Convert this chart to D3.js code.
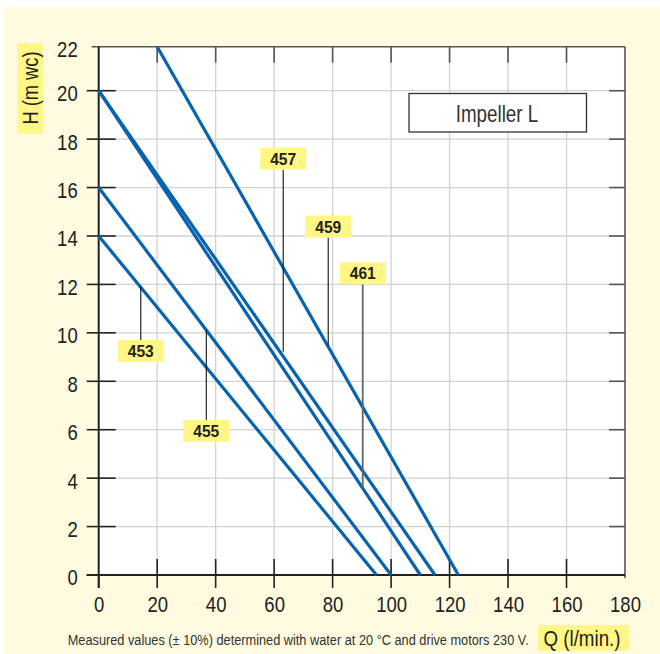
<!DOCTYPE html>
<html><head><meta charset="utf-8">
<script src="https://cdn.jsdelivr.net/npm/d3@7/dist/d3.min.js"></script>
<style>
html,body{margin:0;padding:0;background:#fff;}
svg{display:block;}
</style></head>
<body>
<svg id="c" width="660" height="654"></svg>
<script>
// ---- data ----
const xTicks = [0,20,40,60,80,100,120,140,160,180];
const yTicks = [0,2,4,6,8,10,12,14,16,18,20,22];
const seriesNames = ["453","455","457","459","461"];
// curves: [Q, H] start and end points
const curve453 = [[0,14],[95,0]];
const curve455 = [[0,16],[100,0]];
const curve457 = [[0,20],[115,0]];
const curve459 = [[20,22],[123,0]];
const curve461 = [[0,20],[110,0]];
// label annotations: Q position, H of label centre, H where leader ends
const labelQ    = [14.4, 36.8, 63.1, 78.5, 90.3];
const labelH    = [9.25, 5.95, 17.2, 14.39, 12.46];
const leaderEnd = [11.9, 10.1, 9.22, 9.47, 3.65];
const title = "Impeller L";
const xTitle = "Q (l/min.)";
const yTitle = "H (m wc)";
const footnote = "Measured values (\u00b1 10%) determined with water at 20 \u00b0C and drive motors 230 V.";

const curves = [curve453, curve455, curve457, curve459, curve461];

// ---- layout ----
const svg = d3.select("#c");
const L = 98.7, R = 625, T = 46.7, B = 575;
const x = d3.scaleLinear().domain([0,180]).range([L,R]);
const y = d3.scaleLinear().domain([0,20,22]).range([B,90.7,T]);
const font = "'Liberation Sans',Arial,sans-serif";
const blue = "#0863ae";
const yellow = "#fff685";

svg.append("rect").attr("x",4).attr("y",7).attr("width",656).attr("height",647).attr("fill","#fffbe0");
svg.append("rect").attr("x",L).attr("y",T).attr("width",R-L).attr("height",B-T).attr("fill","#fff");

// grid
svg.append("g").selectAll("line").data(xTicks.slice(1,-1)).join("line")
  .attr("x1",d=>x(d)).attr("x2",d=>x(d)).attr("y1",T).attr("y2",B)
  .attr("stroke","#d2d2d2").attr("stroke-width",1.3);
svg.append("g").selectAll("line").data(yTicks.slice(1,-1)).join("line")
  .attr("y1",d=>y(d)).attr("y2",d=>y(d)).attr("x1",L).attr("x2",R)
  .attr("stroke","#d2d2d2").attr("stroke-width",1.3);

// frame top/right
svg.append("line").attr("x1",L-7).attr("x2",R).attr("y1",T).attr("y2",T).attr("stroke","#555").attr("stroke-width",1.6);
svg.append("line").attr("x1",R).attr("x2",R).attr("y1",T).attr("y2",B+3).attr("stroke","#555").attr("stroke-width",1.6);

// ticks
const tk = svg.append("g").attr("stroke","#222").attr("stroke-width",1.6);
tk.selectAll(".tl").data(yTicks.slice(0,-1)).join("line")
  .attr("x1",L-12).attr("x2",L+17).attr("y1",d=>y(d)).attr("y2",d=>y(d));
tk.selectAll(".tr").data(yTicks.slice(1,-1)).join("line").attr("class","tr")
  .attr("x1",R-16).attr("x2",R).attr("y1",d=>y(d)).attr("y2",d=>y(d)).attr("stroke","#555");
tk.selectAll(".tb").data(xTicks.slice(0,-1)).join("line").attr("class","tb")
  .attr("x1",d=>x(d)).attr("x2",d=>x(d)).attr("y1",d=>d===0?B:B-16).attr("y2",B+13);
tk.selectAll(".tt").data(xTicks.slice(1,-1)).join("line").attr("class","tt")
  .attr("x1",d=>x(d)).attr("x2",d=>x(d)).attr("y1",T).attr("y2",T+16).attr("stroke","#555");

// axis lines
svg.append("line").attr("x1",L).attr("x2",L).attr("y1",T).attr("y2",B+13).attr("stroke","#222").attr("stroke-width",2);
svg.append("line").attr("x1",L-12).attr("x2",R).attr("y1",B).attr("y2",B).attr("stroke","#222").attr("stroke-width",2);

// tick labels via d3 axes (condensed with textLength)
const fmt = d3.format("d");
const yAxis = svg.append("g").attr("transform",`translate(${L},0)`)
  .call(d3.axisLeft(y).tickValues(yTicks).tickSize(0).tickPadding(21).tickFormat(fmt));
yAxis.select(".domain").remove();
yAxis.selectAll("text").attr("font-family",font).attr("font-size",22).attr("fill","#222").attr("dy","0.45em")
  .attr("textLength",d=>fmt(d).length*10.3).attr("lengthAdjust","spacingAndGlyphs");
const xAxis = svg.append("g").attr("transform",`translate(0,${B})`)
  .call(d3.axisBottom(x).tickValues(xTicks).tickSize(0).tickPadding(21).tickFormat(fmt));
xAxis.select(".domain").remove();
xAxis.selectAll("text").attr("font-family",font).attr("font-size",22).attr("fill","#222")
  .attr("textLength",d=>fmt(d).length*10.3).attr("lengthAdjust","spacingAndGlyphs");

// curves
const line = d3.line().x(d=>x(d[0])).y(d=>y(d[1]));
svg.append("g").selectAll("path").data(curves).join("path")
  .attr("d",line).attr("fill","none").attr("stroke",blue).attr("stroke-width",3.2).attr("stroke-linecap","butt");

// labels
const bw = 46, bh = 22;
const lab = svg.append("g");
seriesNames.forEach((n,i)=>{
  const cx = x(labelQ[i]), cy = y(labelH[i]);
  const above = leaderEnd[i] > labelH[i];
  const yEdge = above ? cy - bh/2 : cy + bh/2;
  lab.append("line").attr("x1",cx).attr("x2",cx).attr("y1",yEdge).attr("y2",y(leaderEnd[i]))
    .attr("stroke", i===4 ? "#666" : "#111").attr("stroke-width", i===4 ? 1.8 : 1.1);
  lab.append("rect").attr("x",cx-bw/2).attr("y",cy-bh/2).attr("width",bw).attr("height",bh).attr("fill",yellow);
  lab.append("text").attr("x",cx).attr("y",cy).attr("dy","0.36em").attr("text-anchor","middle")
    .attr("font-family",font).attr("font-weight","bold")
    .attr("font-size",17).attr("fill","#222").attr("textLength",26).attr("lengthAdjust","spacingAndGlyphs").text(n);
});

// title box
svg.append("rect").attr("x",409).attr("y",93.5).attr("width",177.5).attr("height",38.5)
  .attr("fill","#fff").attr("stroke","#333").attr("stroke-width",1.3);
svg.append("text").attr("x",497).attr("y",113).attr("dy","0.36em").attr("text-anchor","middle")
  .attr("font-family",font).attr("font-size",24).attr("fill","#333")
  .attr("textLength",82.6).attr("lengthAdjust","spacingAndGlyphs").text(title);

// y title
svg.append("rect").attr("x",17.3).attr("y",43.3).attr("width",25.7).attr("height",90.4).attr("fill",yellow);
svg.append("text").attr("transform","translate(30.2,88) rotate(-90)").attr("dy","0.36em")
  .attr("text-anchor","middle").attr("font-family",font).attr("font-size",22).attr("fill","#222")
  .attr("textLength",73).attr("lengthAdjust","spacingAndGlyphs").text(yTitle);

// x title
svg.append("rect").attr("x",538.3).attr("y",625).attr("width",90.7).attr("height",25.7).attr("fill",yellow);
svg.append("text").attr("x",582).attr("y",637.8).attr("dy","0.36em").attr("text-anchor","middle")
  .attr("font-family",font).attr("font-size",22).attr("fill","#222")
  .attr("textLength",77).attr("lengthAdjust","spacingAndGlyphs").text(xTitle);

// footnote (condensed horizontally)
svg.append("text").attr("transform","translate(67.7,645.3) scale(0.82,1)")
  .attr("font-family",font).attr("font-size",15).attr("fill","#333")
  .attr("textLength",461/0.82).attr("lengthAdjust","spacingAndGlyphs").text(footnote);
</script>
</body></html>
